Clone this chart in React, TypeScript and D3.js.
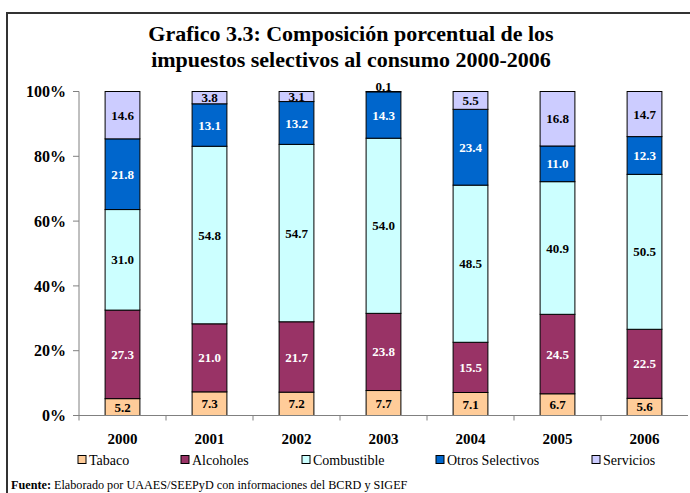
import React, { useEffect, useRef } from 'react'
import * as d3 from 'd3'

const years: string[] = ['2000', '2001', '2002', '2003', '2004', '2005', '2006']
const seriesNames: string[] = ['Tabaco', 'Alcoholes', 'Combustible', 'Otros Selectivos', 'Servicios']
const tabaco: number[] = [5.2, 7.3, 7.2, 7.7, 7.1, 6.7, 5.6]
const alcoholes: number[] = [27.3, 21.0, 21.7, 23.8, 15.5, 24.5, 22.5]
const combustible: number[] = [31.0, 54.8, 54.7, 54.0, 48.5, 40.9, 50.5]
const otros: number[] = [21.8, 13.1, 13.2, 14.3, 23.4, 11.0, 12.3]
const servicios: number[] = [14.6, 3.8, 3.1, 0.1, 5.5, 16.8, 14.7]
const yTicks: number[] = [0, 0.2, 0.4, 0.6, 0.8, 1]

const colors: string[] = ['#FFCC99', '#993366', '#CCFFFF', '#0066CC', '#CCCCFF']
const labelColors: string[] = ['#000', '#fff', '#000', '#fff', '#000']

const W = 690
const H = 493
const margin = { top: 91.5, left: 79, right: 2, bottom: 77.5 }
const font = 'Liberation Serif'

export default function App() {
    const ref = useRef<SVGSVGElement>(null)

    useEffect(() => {
        const svg = d3.select(ref.current)
        svg.selectAll('*').remove()
        svg.style('font-family', font)

        const width = W - margin.left - margin.right
        const height = H - margin.top - margin.bottom
        const cols = [tabaco, alcoholes, combustible, otros, servicios]
        const rows = years.map((y, i) => {
            const r: any = { year: y }
            seriesNames.forEach((s, j) => { r[s] = cols[j][i] })
            return r
        })
        // 100% stacked, each year normalised to its own total
        const stack = d3.stack<any>().keys(seriesNames).offset(d3.stackOffsetExpand)
        const layers = stack(rows)

        // frame
        svg.append('path')
            .attr('d', `M7,${H} L7,13 L${W},13`)
            .attr('fill', 'none')
            .attr('stroke', '#333')
            .attr('stroke-width', 2)

        svg.append('text')
            .attr('x', 351).attr('y', 41)
            .attr('text-anchor', 'middle')
            .attr('font-weight', 'bold').attr('font-size', 22)
            .text('Grafico 3.3: Composición porcentual de los')
        svg.append('text')
            .attr('x', 351).attr('y', 67)
            .attr('text-anchor', 'middle')
            .attr('font-weight', 'bold').attr('font-size', 22)
            .text('impuestos selectivos al consumo 2000-2006')

        const g = svg.append('g').attr('transform', `translate(${margin.left},${margin.top})`)

        const x = d3.scaleBand().domain(years).range([0, width]).paddingInner(0.6).paddingOuter(0.3)
        const xb = d3.scaleBand().domain(years).range([0, width])
        const y = d3.scaleLinear().domain([0, 1]).range([height, 0])

        // bars
        layers.forEach((layer, j) => {
            g.append('g').selectAll('rect')
                .data(layer)
                .enter().append('rect')
                .attr('x', (d: any) => x(d.data.year)!)
                .attr('y', (d: any) => y(d[1]))
                .attr('width', x.bandwidth())
                .attr('height', (d: any) => y(d[0]) - y(d[1]))
                .attr('fill', colors[j])
                .attr('stroke', '#000')
                .attr('stroke-width', 1)
        })

        // labels
        layers.forEach((layer, j) => {
            g.append('g').selectAll('text')
                .data(layer)
                .enter().append('text')
                .attr('x', (d: any) => x(d.data.year)! + x.bandwidth() / 2)
                .attr('y', (d: any) => {
                    const h = y(d[0]) - y(d[1])
                    if (h < 3) return y(d[1]) - 5
                    return (y(d[0]) + y(d[1])) / 2
                })
                .attr('dy', '0.35em')
                .attr('text-anchor', 'middle')
                .attr('font-weight', 'bold').attr('font-size', 13)
                .attr('fill', labelColors[j])
                .text((d: any) => d.data[seriesNames[j]].toFixed(1))
        })

        // y axis
        g.append('line').attr('x1', 0).attr('x2', 0).attr('y1', 0).attr('y2', height)
            .attr('stroke', '#808080')
        g.selectAll('.yt').data(yTicks).enter().append('line')
            .attr('x1', -6).attr('x2', 0)
            .attr('y1', d => y(d)).attr('y2', d => y(d))
            .attr('stroke', '#808080')
        g.selectAll('.yl').data(yTicks).enter().append('text')
            .attr('x', -13).attr('y', d => y(d))
            .attr('dy', '0.35em')
            .attr('text-anchor', 'end')
            .attr('font-weight', 'bold').attr('font-size', 16)
            .text(d => d3.format('.0%')(d))

        // x axis
        g.append('line').attr('x1', 0).attr('x2', width).attr('y1', height).attr('y2', height)
            .attr('stroke', '#808080')
        g.selectAll('.xt').data(years).enter().append('line')
            .attr('x1', d => xb(d)!).attr('x2', d => xb(d)!)
            .attr('y1', height).attr('y2', height + 5)
            .attr('stroke', '#808080')
        g.selectAll('.xl').data(years).enter().append('text')
            .attr('x', d => x(d)! + x.bandwidth() / 2)
            .attr('y', height + 28)
            .attr('text-anchor', 'middle')
            .attr('font-weight', 'bold').attr('font-size', 15)
            .text(d => d)

        // legend
        const legendX = [78, 181, 302, 436, 592]
        seriesNames.forEach((s, j) => {
            svg.append('rect')
                .attr('x', legendX[j]).attr('y', 455.5)
                .attr('width', 8).attr('height', 8)
                .attr('fill', colors[j]).attr('stroke', '#000')
            svg.append('text')
                .attr('x', legendX[j] + 11).attr('y', 465)
                .attr('font-size', 14)
                .text(s)
        })

        const f = svg.append('text').attr('x', 11).attr('y', 489)
            .attr('font-size', 12.2)
        f.append('tspan').attr('font-weight', 'bold').text('Fuente:')
        f.append('tspan').text(' Elaborado por UAAES/SEEPyD con informaciones del BCRD y SIGEF')
    }, [])

    return (
        <svg ref={ref} width={W} height={H}
            style={{ position: 'absolute', left: 0, top: 0, background: '#fff' }} />
    )
}
